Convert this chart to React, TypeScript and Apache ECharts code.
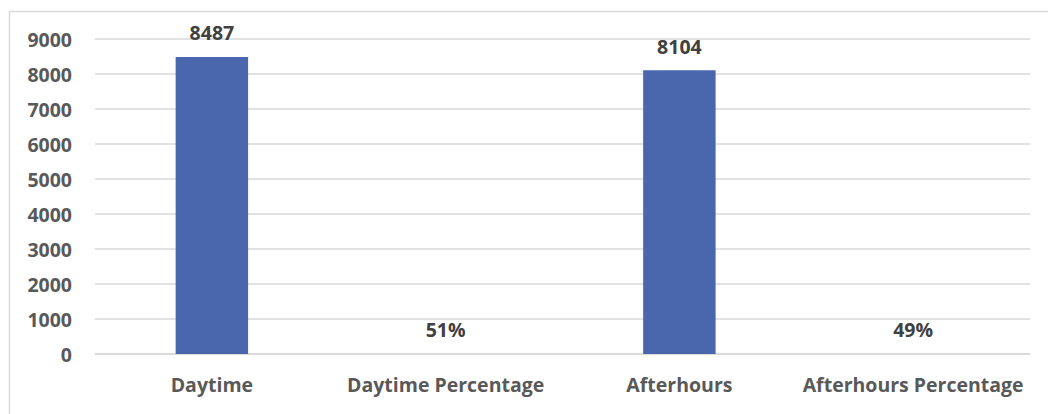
import React, { useEffect, useRef } from "react";
import * as echarts from "echarts";

const categories = ["Daytime", "Daytime Percentage", "Afterhours", "Afterhours Percentage"];
const values = [8487, 0.51, 8104, 0.49];
const valueLabels = ["8487", "51%", "8104", "49%"];
const yTicks = [0, 1000, 2000, 3000, 4000, 5000, 6000, 7000, 8000, 9000];

const FONT = "'Open Sans', 'Noto Sans', sans-serif";
const TEXT = "#595959";
const FS = 19.5;

export default function App() {
  const ref = useRef<HTMLDivElement>(null);
  useEffect(() => {
    if (!ref.current) return;
    const chart = echarts.init(ref.current, undefined, { renderer: "svg" });
    chart.setOption({
      animation: false,
      backgroundColor: "#ffffff",
      textStyle: { fontFamily: FONT },
      graphic: [
        {
          type: "rect",
          left: 7,
          top: 9,
          shape: { width: 1100, height: 500 },
          style: { fill: "none", stroke: "#d9d9d9", lineWidth: 1.5 },
          silent: true,
        },
      ],
      grid: { left: 95, right: 18, top: 39, bottom: 60, containLabel: false },
      xAxis: {
        type: "category",
        data: categories,
        axisLine: { show: true, lineStyle: { color: "#d9d9d9", width: 1.5 } },
        axisTick: { show: false },
        axisLabel: {
          interval: 0,
          margin: 20,
          color: TEXT,
          fontFamily: FONT,
          fontWeight: "bold",
          fontSize: FS,
        },
      },
      yAxis: {
        type: "value",
        min: yTicks[0],
        max: yTicks[yTicks.length - 1],
        interval: 1000,
        axisLine: { show: false },
        axisTick: { show: false },
        splitLine: { lineStyle: { color: "#d9d9d9", width: 1.5 } },
        axisLabel: {
          margin: 23,
          color: TEXT,
          fontFamily: FONT,
          fontWeight: "bold",
          fontSize: FS,
          formatter: (v: number) => String(v),
        },
      },
      series: [
        {
          type: "bar",
          data: values,
          barWidth: "31%",
          itemStyle: { color: "#4a66ac" },
          label: {
            show: true,
            position: "top",
            distance: 14,
            color: "#404040",
            fontFamily: FONT,
            fontWeight: "bold",
            fontSize: FS,
            formatter: (p: any) => valueLabels[p.dataIndex],
          },
        },
      ],
    });
    return () => chart.dispose();
  }, []);
  return (
    <div
      ref={ref}
      style={{ position: "fixed", left: 0, top: 0, width: 1048, height: 414, background: "#fff" }}
    />
  );
}
